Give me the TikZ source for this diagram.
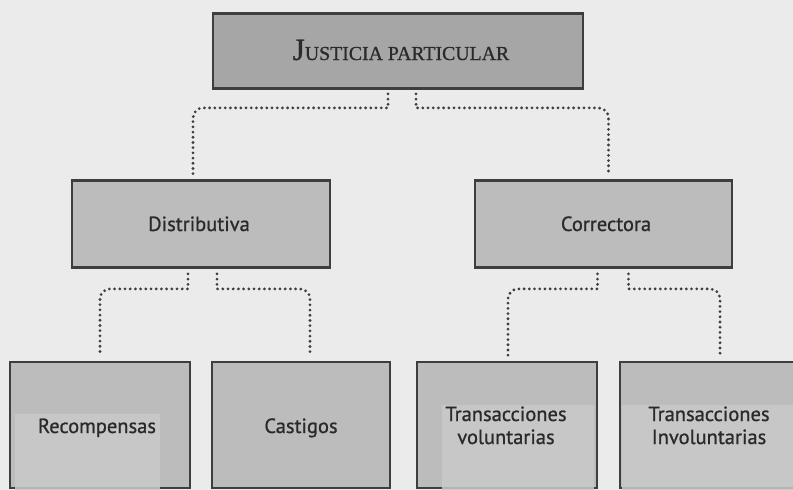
\documentclass[tikz,border=0pt]{standalone}
\usepackage{fontspec}
\setmainfont[FakeBold=0.8,AutoFakeBold=0.8]{Liberation Serif}
\newfontfamily\labelfont[FakeBold=0.9]{PT Sans}
\usetikzlibrary{calc}
\definecolor{bgcol}{HTML}{EBEBEB}
\definecolor{topfill}{HTML}{A6A6A6}
\definecolor{boxfill}{HTML}{BCBCBC}
\definecolor{patchfill}{HTML}{C9C9C9}
\definecolor{edgecol}{HTML}{3E3E3E}
\definecolor{txtcol}{HTML}{2A2A2A}
\tikzset{
  topbox/.style={draw=edgecol, line width=2.8pt, fill=topfill, text=txtcol, inner sep=0pt},
  lvlbox/.style={draw=edgecol, line width=2.8pt, fill=boxfill, text=txtcol, inner sep=0pt},
  lbl/.style={text=txtcol, font=\labelfont\fontsize{20.5}{23}\selectfont, align=center, inner sep=0pt},
  dotline/.style={draw=edgecol, line width=3.1pt, line cap=round, dash pattern=on 0pt off 5.2pt},
  patch/.style={fill=patchfill, fill opacity=0.85, draw=none}
}
\begin{document}
\begin{tikzpicture}[x=1pt,y=-1pt]
\fill[bgcol] (0,0) rectangle (793,490);
\useasboundingbox (0,0) rectangle (793,490);
% boxes
\node[topbox, minimum width=370, minimum height=75] (top) at (398,51) {};
\node[lvlbox, minimum width=258, minimum height=87] (dist) at (201,224) {};
\node[lvlbox, minimum width=257, minimum height=87] (corr) at (603.5,224) {};
\node[lvlbox, minimum width=180, minimum height=126] (rec) at (100,425) {};
\node[lvlbox, minimum width=178, minimum height=126] (cas) at (301,425) {};
\node[lvlbox, minimum width=180, minimum height=126] (tvol) at (507,425) {};
\node[lvlbox, minimum width=176, minimum height=126] (tinv) at (708,425) {};
% lighter patches
\fill[patch] (15,414) rectangle (160,490);
\fill[patch] (442,405) rectangle (594,490);
\fill[patch] (622,405) rectangle (793,490);
% labels
\node[text=txtcol, inner sep=0pt, anchor=base] (toplbl) at (401,60)
  {\bfseries{\fontsize{31}{31}\selectfont J}{\fontsize{19.8}{20}\selectfont USTICIA PARTICULAR}};
\node[lbl, anchor=base] (distlbl) at (199,231) {Distributiva};
\node[lbl, anchor=base] (corrlbl) at (606,231) {Correctora};
\node[lbl, anchor=base] (reclbl) at (97,433) {Recompensas};
\node[lbl, anchor=base] (caslbl) at (301,433) {Castigos};
\node[lbl, anchor=base] (tvollbl) at (506,421) {Transacciones};
\node[lbl, anchor=base] (tvollbl2) at (506,444) {voluntarias};
\node[lbl, anchor=base] (tinvlbl) at (709,421) {Transacciones};
\node[lbl, anchor=base] (tinvlbl2) at (709,444) {Involuntarias};
% connectors
\draw[dotline] ($(top.south)+(-10,4)$) -- ++(0,14) [rounded corners=10pt] -| ($(dist.north)+(-8,-3)$);
\draw[dotline] ($(top.south)+(18,4)$) -- ++(0,14) [rounded corners=10pt] -| ($(corr.north)+(5,-3)$);
\draw[dotline] ($(dist.south)+(-13,5)$) -- ++(0,15) [rounded corners=10pt] -| ($(rec.north)+(0,-4)$);
\draw[dotline] ($(dist.south)+(16,5)$) -- ++(0,15) [rounded corners=10pt] -| ($(cas.north)+(9,-4)$);
\draw[dotline] ($(corr.south)+(-6,5)$) -- ++(0,15) [rounded corners=10pt] -| ($(tvol.north)+(1,-4)$);
\draw[dotline] ($(corr.south)+(25,5)$) -- ++(0,15) [rounded corners=10pt] -| ($(tinv.north)+(12,-4)$);
\end{tikzpicture}
\end{document}
